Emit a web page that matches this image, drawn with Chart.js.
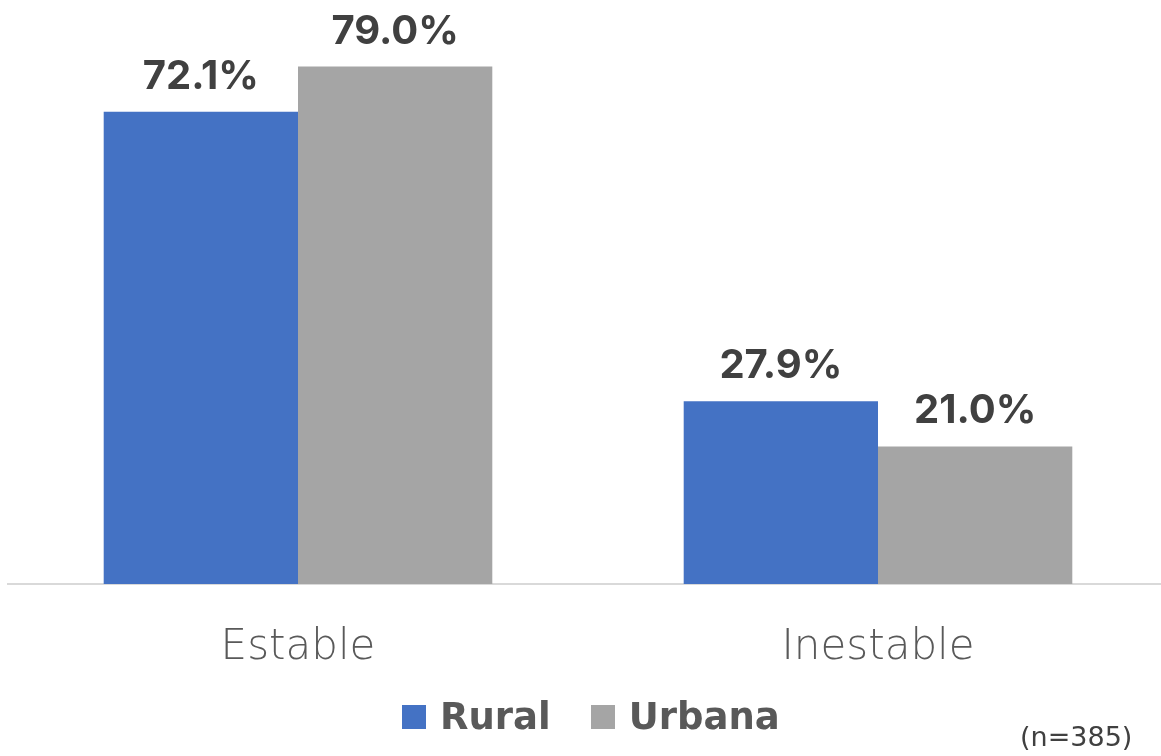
<!DOCTYPE html>
<html>
<head>
<meta charset="utf-8">
<script src="https://cdn.jsdelivr.net/npm/chart.js@4"></script>
<style>
  html, body { margin:0; padding:0; background:#fff; }
  #wrap { position:relative; width:1161px; height:756px; overflow:hidden; }
  #chart { position:absolute; left:0; top:0; }
  #legend { position:absolute; left:402px; top:698px; display:flex; align-items:center; font-family:"DejaVu Sans", sans-serif; font-weight:bold; font-size:37px; line-height:1; color:#595959; }
  #legend .box { width:24px; height:24px; margin-right:14px; }
  #legend .item { display:flex; align-items:center; margin-right:40px; }
  #note { position:absolute; left:1020px; top:721px; font-family:"DejaVu Sans", sans-serif; font-size:27px; color:#404040; }
</style>
</head>
<body>
<div id="wrap">
  <canvas id="chart" width="1168" height="756"></canvas>
  <div id="legend"></div>
  <div id="note">(n=385)</div>
</div>
<script>
// data
const categories = ['Estable', 'Inestable'];
const rural = [72.1, 27.9];
const urbana = [79.0, 21.0];
const seriesNames = ['Rural', 'Urbana'];
const colors = ['#4472C4', '#A5A5A5'];

// labels above the bars
const barLabels = {
  id: 'barLabels',
  afterDatasetsDraw(chart){
    const ctx = chart.ctx;
    ctx.save();
    ctx.font = 'bold 40px Inter, "Noto Sans", sans-serif';
    ctx.fillStyle = '#404040';
    ctx.textAlign = 'center';
    ctx.textBaseline = 'middle';
    chart.data.datasets.forEach((ds, i) => {
      chart.getDatasetMeta(i).data.forEach((bar, j) => {
        ctx.fillText(ds.data[j].toFixed(1) + '%', bar.x, bar.y - 35);
      });
    });
    ctx.restore();
  }
};

const chart = new Chart(document.getElementById('chart'), {
  type: 'bar',
  data: {
    labels: categories,
    datasets: [
      { label: seriesNames[0], data: rural, backgroundColor: colors[0] },
      { label: seriesNames[1], data: urbana, backgroundColor: colors[1] }
    ]
  },
  options: {
    responsive: false,
    animation: false,
    layout: { padding: { top: 60, left: 8, right: 0, bottom: 44 } },
    datasets: { bar: { categoryPercentage: 0.67, barPercentage: 1 } },
    scales: {
      x: {
        grid: { display: false, drawTicks: false },
        border: { display: true, color: '#D9D9D9', width: 2 },
        ticks: { color: '#595959', padding: 43, font: { family: '"DejaVu Sans", sans-serif', size: 42, weight: 200, lineHeight: 1 } }
      },
      y: { display: false, min: 0, max: 80 }
    },
    plugins: {
      legend: { display: false },
      tooltip: { enabled: false }
    }
  },
  plugins: [barLabels]
});

// html legend from the datasets
const legend = document.getElementById('legend');
legend.innerHTML = chart.data.datasets.map(ds =>
  `<span class="item"><span class="box" style="background:${ds.backgroundColor}"></span>${ds.label}</span>`
).join('');
</script>
</body>
</html>
